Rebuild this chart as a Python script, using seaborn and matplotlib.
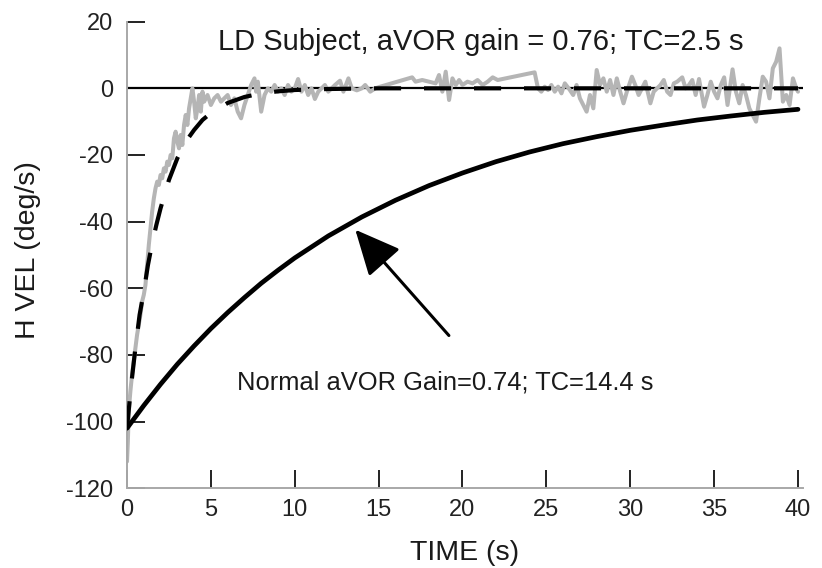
#!/usr/bin/env python3
"""
Head velocity decay after rotation stop: LD subject vs normal aVOR fit.
"""

import matplotlib
matplotlib.use('Agg')
import matplotlib.pyplot as plt
import seaborn as sns
import pandas as pd

sns.set_style('ticks')
plt.rcParams['font.family'] = ['Liberation Sans', 'DejaVu Sans']
plt.rcParams['axes.unicode_minus'] = False

# Normal subject fit (solid black), TC = 14.4 s
normal_t = [0, 1, 2, 3, 4, 5, 6, 7, 8, 9, 10, 12, 14, 16, 18, 20, 22, 24, 26, 28, 30, 32, 34, 36, 38, 40]
normal_v = [-102, -95.2, -88.8, -82.8, -77.3, -72.1, -67.3, -62.8, -58.5, -54.6, -50.9,
            -44.3, -38.6, -33.6, -29.2, -25.4, -22.0, -19.1, -16.6, -14.5, -12.6, -11.0,
            -9.5, -8.3, -7.2, -6.3]

# LD subject fit (dashed black)
ld_fit_t = [0, 0.25, 0.5, 0.75, 1, 1.25, 1.5, 1.75, 2, 2.5, 3, 3.5, 4, 4.5, 5, 6, 7, 8, 9, 10, 12, 15, 40]
ld_fit_v = [-102, -89, -78, -68, -61, -53, -46.5, -41, -36, -27.5, -21, -16, -12.5, -9.5, -7.4,
            -4.4, -2.6, -1.5, -0.9, -0.5, -0.2, 0, 0]

# LD subject raw head velocity (gray trace)
ld_raw_t = [0.0, 0.05, 0.1, 0.15, 0.2, 0.3, 0.4, 0.5, 0.6, 0.7, 0.8, 0.9, 1.0, 1.1, 1.2, 1.3, 1.4,
            1.5, 1.6, 1.7, 1.8, 1.9, 2.0, 2.1, 2.2, 2.3, 2.4, 2.5, 2.6, 2.7, 2.8, 2.9, 3.0, 3.1,
            3.2, 3.3, 3.4, 3.5, 3.6, 3.7, 3.8, 3.9, 4.0, 4.1, 4.2, 4.3, 4.4, 4.5, 4.6, 4.8, 5.0,
            5.2, 5.4, 5.6, 5.8, 6.0, 6.2, 6.4, 6.6, 6.8, 7.0, 7.2, 7.4, 7.6, 7.7, 7.8, 8.0, 8.2,
            8.4, 8.6, 8.8, 9.0, 9.2, 9.4, 9.6, 9.8, 10.0, 10.2, 10.4, 10.6, 10.8, 11.0, 11.2,
            11.4, 11.6, 11.8, 12.0, 12.2, 12.4, 12.7, 12.9, 13.2, 13.4, 13.7, 14.0, 14.2, 14.5,
            14.8, 15.1, 17.0, 17.2, 17.6, 18.0, 18.4, 18.6, 18.8, 19.0, 19.2, 19.4, 19.6, 19.8,
            20.0, 20.3, 20.6, 20.9, 21.2, 21.5, 21.8, 22.1, 24.3, 24.5, 24.7, 24.9, 25.1, 25.3,
            25.5, 25.7, 25.9, 26.1, 26.4, 26.6, 26.8, 27.0, 27.2, 27.4, 27.6, 27.8, 28.0, 28.2,
            28.4, 28.6, 28.8, 29.0, 29.2, 29.4, 29.6, 29.8, 30.1, 30.3, 30.5, 30.7, 30.9, 31.2,
            31.4, 31.6, 31.8, 32.0, 32.2, 32.4, 32.6, 32.8, 33.1, 33.3, 33.5, 33.7, 33.9, 34.1,
            34.4, 34.6, 34.8, 35.0, 35.2, 35.4, 35.6, 35.8, 36.1, 36.3, 36.5, 36.7, 36.9, 37.1,
            37.3, 37.5, 37.7, 37.9, 38.1, 38.3, 38.5, 38.7, 38.9, 39.1, 39.3, 39.5, 39.7, 39.9,
            40.0]
ld_raw_v = [-112, -106, -98, -94, -91, -86, -82, -78, -74, -71, -68, -64, -62, -59, -53, -47, -42,
            -37, -33, -30, -28, -29, -26, -27, -24, -25, -22, -23, -20, -21, -15, -13, -16, -18,
            -14, -17, -11, -8, -11, -6, -3, 0, -4, -9, -6, -2, -7, -1, -4, -2, -5,
            -3, -2, -4, -3, -2, -5, -3, -7, -9, -5, -2, 1, 3, -1, 2, -7, -2,
            0, -1, 1, -1, 0, -2, 1, -1, 0, 2.8, -1, 1, -2, 0, -3.2,
            -1, 0, 1, -1, 0, 1, 2.3, -1, 3, 0, -0.6, 0, 1, -1,
            0, 0.5, 3.3, 2, 2.5, 2, 1.5, 4, -1, 5, -3.5, 3, 1, 2.5,
            1, 2, 1.5, 2.5, 1, 2, 3.3, 2.5, 4.8, 0, -1, 0.5, -0.5, 1,
            -1, 0.5, -1.5, 1.5, -0.5, -2, 1, -3, -5, -7, -2, -6, 5.5, 1,
            3, -1, 2.5, -2, 3, -1, -4.5, -1, 3.5, 1, -2, 0, 2, -4.5,
            -1, 0, 1, 2.5, -1, -2, 1.5, 2, 3.3, 0, 1, 2.5, -2, 2.8,
            -5.5, -2, 2, -1, -3, 1, 3.3, -5, 5.7, -1, -4.5, 1, -2, -6,
            -8, -10, -3, 3.5, 2, -3, 6, 8, 12, -4, -2, -5, 3, 0,
            -1]

y_ticks = [-120, -100, -80, -60, -40, -20, 0, 20]
x_ticks = [0, 5, 10, 15, 20, 25, 30, 35, 40]

raw_df = pd.DataFrame({'t': ld_raw_t, 'v': ld_raw_v})
fit_df = pd.DataFrame({'t': ld_fit_t, 'v': ld_fit_v})
norm_df = pd.DataFrame({'t': normal_t, 'v': normal_v})

fig = plt.figure(figsize=(8.22, 5.68), dpi=100)
ax = fig.add_axes([0.1545, 0.1405, 0.8224, 0.8213])

ax.axhline(0, color='black', lw=1.6, zorder=1)
sns.lineplot(data=raw_df, x='t', y='v', ax=ax, color='#b5b5b5', lw=2.9,
             errorbar=None, estimator=None, zorder=2)
sns.lineplot(data=fit_df, x='t', y='v', ax=ax, color='black', lw=3,
             linestyle=(0, (6.5, 5.5)), errorbar=None, estimator=None, zorder=3)
sns.lineplot(data=norm_df, x='t', y='v', ax=ax, color='black', lw=3.4,
             errorbar=None, estimator=None, zorder=3)

ax.annotate('', xy=(13.5, -41.8), xytext=(19.3, -74.8),
            arrowprops=dict(arrowstyle='-|>,head_length=1.4,head_width=0.65',
                            color='black', lw=2.2, mutation_scale=20))

ax.text(5.4, 13.9, 'LD Subject, aVOR gain = 0.76; TC=2.5 s', fontsize=21,
        ha='left', va='center', color='#1a1a1a')
ax.text(6.55, -88.3, 'Normal aVOR Gain=0.74; TC=14.4 s', fontsize=18.4,
        ha='left', va='center', color='#1a1a1a')

ax.set_xlim(0, 40.3)
ax.set_ylim(-120, 20)
ax.set_xticks(x_ticks)
ax.set_yticks(y_ticks)
ax.set_xlabel('TIME (s)', fontsize=20.5, color='#1a1a1a')
ax.set_ylabel('H VEL (deg/s)', fontsize=20.5, color='#1a1a1a')
ax.xaxis.set_label_coords(0.5, -0.112)
ax.yaxis.set_label_coords(-0.127, 0.51)
ax.tick_params(direction='in', length=13, width=1.4, color='#222222',
               labelsize=17, labelcolor='#222222')
ax.tick_params(axis='x', pad=8)
ax.tick_params(axis='y', pad=10)

sns.despine(ax=ax)
for s in ['left', 'bottom']:
    ax.spines[s].set_color('#a8a8a8')
    ax.spines[s].set_linewidth(1.4)

plt.savefig('out.png', dpi=100)
plt.close()
